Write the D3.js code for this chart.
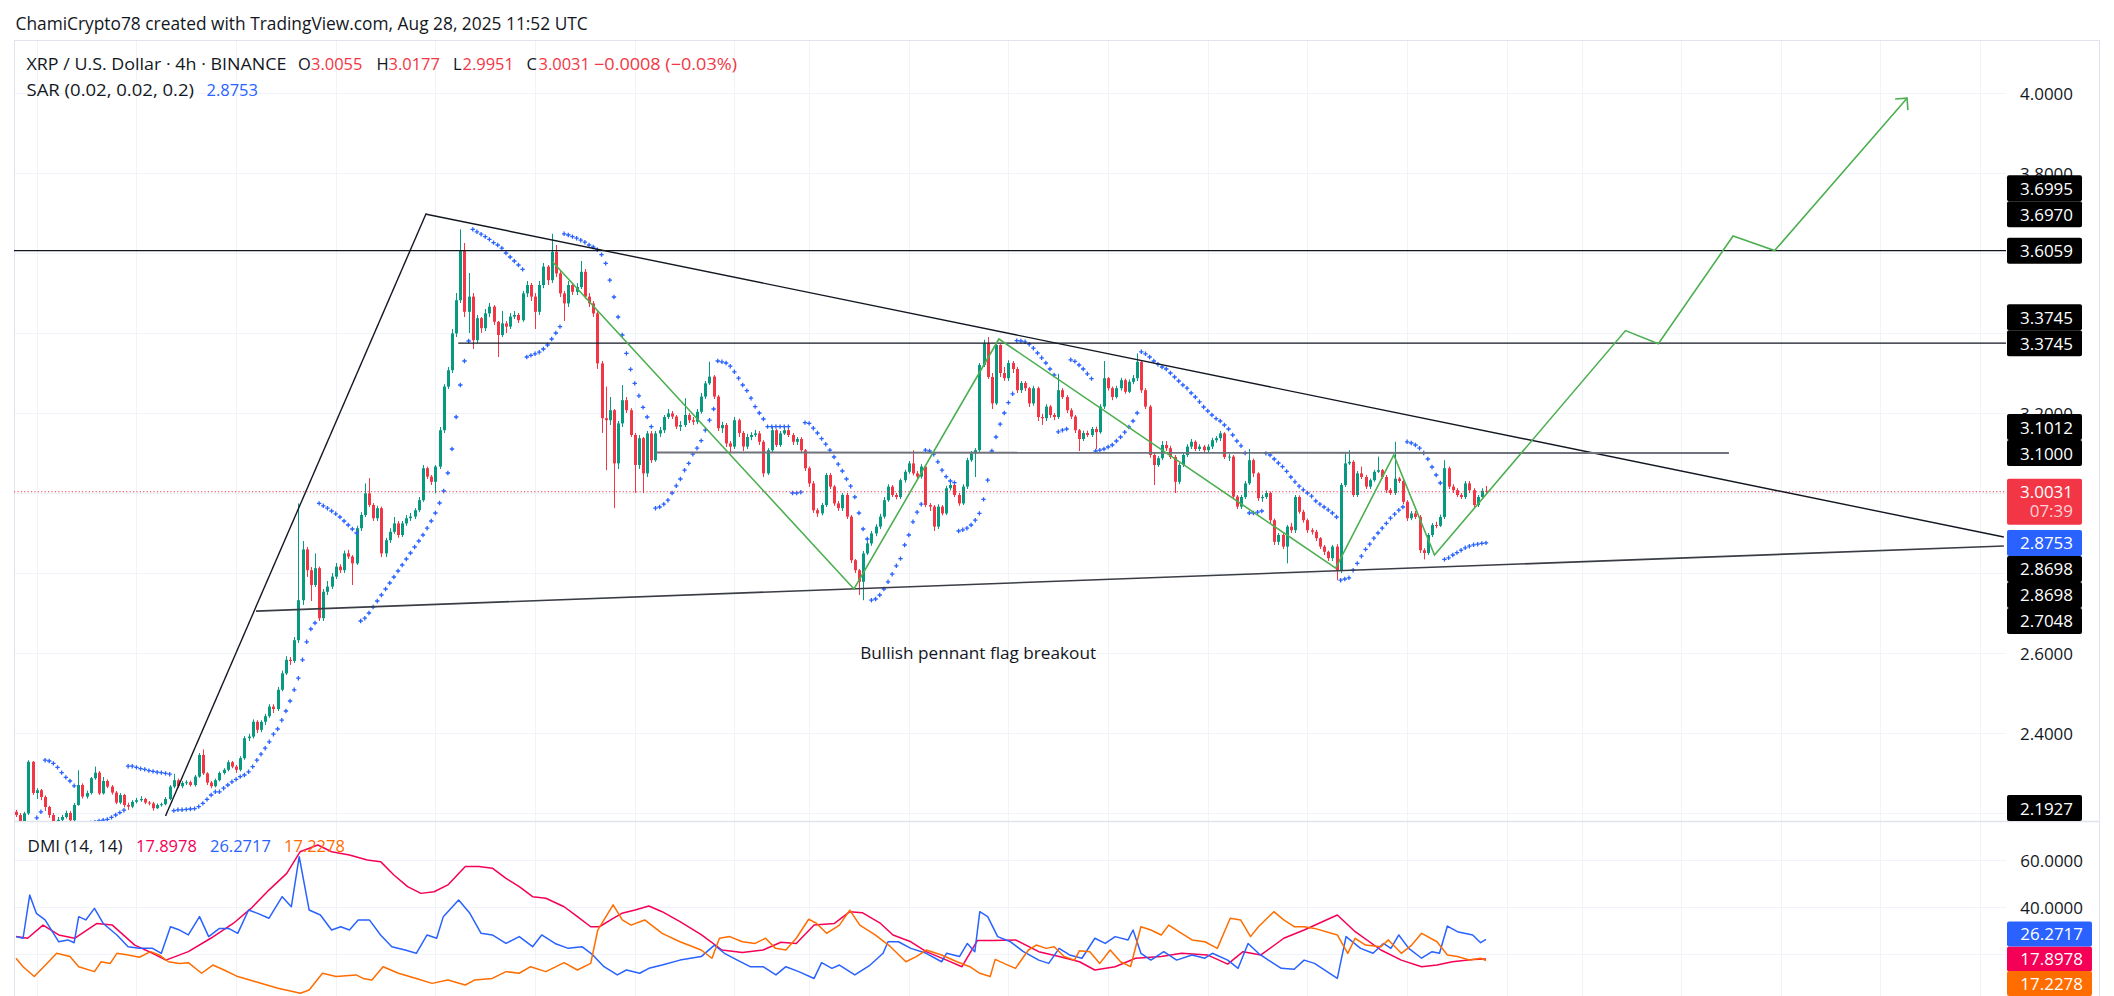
<!DOCTYPE html>
<html><head><meta charset="utf-8">
<script src="https://cdn.jsdelivr.net/npm/d3@7"></script>
<style>
html,body{margin:0;padding:0;background:#fff;overflow:hidden;}
svg{display:block;font-family:"Open Sans","Noto Sans",sans-serif;}
</style></head><body>
<svg id="c" width="2114" height="996"></svg>
<script>
// ---------------- DATA ----------------
const candleStart = "2025-06-30T04:00:00Z";   // first visible 4h candle
const firstOpen = 2.203;
// open of every later candle = previous close (continuous 24/7 market)
const closes = [
2.195,2.178,2.199,2.328,2.25,2.257,2.24,2.215,2.195,2.18,
2.183,2.19,2.20,2.182,2.22,2.27,2.241,2.25,2.287,2.301,
2.249,2.28,2.266,2.251,2.226,2.245,2.22,2.216,2.228,2.232,
2.235,2.226,2.224,2.212,2.22,2.222,2.235,2.266,2.282,2.267,
2.275,2.277,2.27,2.291,2.345,2.299,2.276,2.267,2.282,2.30,
2.308,2.327,2.316,2.308,2.337,2.387,2.391,2.428,2.408,2.428,
2.442,2.466,2.46,2.508,2.549,2.583,2.58,2.632,2.732,2.859,
2.807,2.77,2.812,2.687,2.753,2.766,2.791,2.816,2.807,2.849,
2.841,2.824,2.912,2.945,2.999,2.97,2.937,2.962,2.849,2.882,
2.903,2.924,2.895,2.924,2.937,2.941,2.957,2.982,3.062,3.041,
3.028,3.066,3.157,3.266,3.307,3.399,3.482,3.607,3.453,3.491,
3.382,3.437,3.412,3.449,3.466,3.428,3.395,3.424,3.416,3.441,
3.445,3.432,3.499,3.52,3.491,3.453,3.52,3.566,3.532,3.603,
3.549,3.499,3.474,3.52,3.503,3.515,3.553,3.491,3.474,3.449,
3.324,3.187,3.182,3.207,3.074,3.174,3.232,3.207,3.145,3.07,
3.137,3.049,3.149,3.082,3.149,3.157,3.19,3.199,3.191,3.166,
3.17,3.195,3.182,3.178,3.203,3.241,3.274,3.291,3.241,3.162,
3.17,3.124,3.116,3.182,3.15,3.116,3.14,3.145,3.149,3.128,
3.049,3.107,3.157,3.12,3.149,3.157,3.145,3.128,3.135,3.107,
3.062,3.024,2.957,2.949,2.97,3.045,3.016,2.974,2.962,2.995,
2.941,2.832,2.807,2.778,2.849,2.874,2.899,2.916,2.941,2.982,
3.016,2.995,2.99,3.032,3.053,3.074,3.049,3.041,3.066,2.97,
2.966,2.916,2.966,2.949,3.012,3.02,2.995,2.974,3.016,3.082,
3.099,3.107,3.32,3.374,3.29,3.224,3.37,3.30,3.287,3.325,
3.31,3.257,3.275,3.262,3.224,3.262,3.19,3.187,3.216,3.195,
3.19,3.257,3.24,3.207,3.191,3.157,3.135,3.15,3.145,3.16,
3.152,3.216,3.287,3.262,3.24,3.262,3.282,3.253,3.278,3.287,
3.328,3.257,3.216,3.095,3.07,3.087,3.12,3.112,3.09,3.028,
3.07,3.095,3.116,3.128,3.11,3.116,3.107,3.116,3.132,3.137,
3.149,3.09,3.091,2.991,2.966,2.99,3.024,3.082,3.049,2.987,
2.99,3.0,2.932,2.878,2.895,2.866,2.916,2.907,2.99,2.953,
2.932,2.907,2.903,2.887,2.866,2.853,2.837,2.866,2.807,3.02,
3.074,3.078,2.995,3.049,3.04,3.016,3.032,3.053,3.057,3.04,
3.007,3.0,3.036,3.03,2.978,2.937,2.949,2.94,2.857,2.85,
2.895,2.92,2.918,2.94,3.062,3.016,3.007,2.995,2.99,3.024,
3.007,2.97,2.99,3.0055,3.0031];
const highs = [
2.208,2.20,2.203,2.332,2.33,2.262,2.26,2.244,2.218,2.20,
2.19,2.195,2.206,2.205,2.225,2.307,2.274,2.256,2.29,2.316,
2.305,2.29,2.284,2.27,2.255,2.25,2.248,2.226,2.232,2.238,
2.242,2.238,2.23,2.228,2.224,2.226,2.24,2.27,2.298,2.286,
2.28,2.282,2.281,2.295,2.35,2.359,2.302,2.28,2.286,2.304,
2.312,2.332,2.33,2.32,2.342,2.392,2.398,2.434,2.432,2.432,
2.448,2.472,2.472,2.515,2.556,2.592,2.59,2.64,2.974,2.88,
2.865,2.815,2.849,2.816,2.76,2.78,2.80,2.825,2.822,2.856,
2.858,2.845,2.918,2.952,3.024,3.037,2.975,2.968,2.966,2.888,
2.912,2.94,2.93,2.93,2.945,2.95,2.962,2.99,3.07,3.066,
3.045,3.07,3.165,3.272,3.315,3.41,3.50,3.659,3.625,3.55,
3.50,3.445,3.44,3.46,3.475,3.47,3.43,3.455,3.43,3.45,
3.455,3.45,3.505,3.53,3.525,3.50,3.53,3.575,3.57,3.648,
3.62,3.555,3.505,3.53,3.525,3.525,3.58,3.56,3.50,3.48,
3.455,3.33,3.266,3.24,3.21,3.18,3.27,3.24,3.212,3.15,
3.145,3.14,3.155,3.155,3.155,3.165,3.195,3.21,3.205,3.195,
3.18,3.237,3.20,3.19,3.21,3.25,3.28,3.328,3.295,3.245,
3.178,3.175,3.13,3.19,3.186,3.155,3.148,3.152,3.158,3.155,
3.132,3.112,3.165,3.16,3.155,3.165,3.162,3.15,3.14,3.14,
3.11,3.066,3.03,2.962,2.975,3.05,3.05,3.02,2.98,3.0,
3.0,2.945,2.835,2.81,2.855,2.88,2.905,2.922,2.948,2.99,
3.022,3.02,3.0,3.036,3.058,3.08,3.107,3.055,3.072,3.07,
2.975,2.97,2.972,2.97,3.018,3.026,3.024,3.0,3.022,3.088,
3.105,3.112,3.325,3.383,3.39,3.30,3.378,3.372,3.315,3.332,
3.33,3.315,3.28,3.28,3.265,3.268,3.266,3.198,3.222,3.22,
3.20,3.298,3.262,3.245,3.212,3.195,3.16,3.156,3.156,3.165,
3.166,3.222,3.33,3.29,3.266,3.268,3.288,3.286,3.284,3.295,
3.349,3.332,3.262,3.22,3.10,3.092,3.13,3.13,3.118,3.095,
3.075,3.10,3.122,3.135,3.132,3.122,3.12,3.122,3.138,3.142,
3.155,3.152,3.098,3.095,2.995,2.995,3.03,3.11,3.086,3.052,
2.996,3.006,3.004,2.936,2.90,2.90,2.92,2.925,2.995,2.994,
2.958,2.936,2.912,2.908,2.89,2.87,2.856,2.87,2.872,3.025,
3.099,3.107,3.082,3.055,3.066,3.045,3.036,3.058,3.091,3.06,
3.045,3.012,3.128,3.04,3.034,2.982,2.955,2.955,2.945,2.862,
2.90,2.925,2.928,2.946,3.082,3.066,3.022,3.012,3.0,3.03,
3.03,3.012,2.995,3.012,3.0177];
const lows = [
2.19,2.17,2.175,2.195,2.245,2.235,2.232,2.205,2.188,2.172,
2.175,2.178,2.186,2.176,2.18,2.218,2.236,2.236,2.246,2.283,
2.245,2.246,2.262,2.246,2.222,2.222,2.214,2.208,2.212,2.224,
2.228,2.222,2.219,2.206,2.21,2.216,2.219,2.232,2.262,2.262,
2.262,2.27,2.266,2.266,2.288,2.295,2.27,2.262,2.264,2.279,
2.296,2.304,2.312,2.30,2.304,2.333,2.38,2.386,2.40,2.402,
2.42,2.438,2.45,2.455,2.504,2.545,2.57,2.575,2.625,2.72,
2.79,2.73,2.765,2.68,2.68,2.745,2.76,2.785,2.80,2.80,
2.835,2.77,2.82,2.905,2.94,2.965,2.93,2.93,2.84,2.84,
2.875,2.898,2.888,2.89,2.918,2.93,2.935,2.952,2.978,3.035,
3.02,2.999,3.06,3.15,3.26,3.30,3.39,3.475,3.44,3.40,
3.36,3.375,3.40,3.405,3.44,3.42,3.34,3.39,3.40,3.41,
3.435,3.425,3.428,3.49,3.48,3.41,3.445,3.512,3.52,3.525,
3.54,3.49,3.43,3.465,3.495,3.495,3.51,3.485,3.465,3.44,
3.31,3.15,3.057,3.17,2.962,3.06,3.165,3.20,3.14,3.0,
3.06,3.0,3.04,3.075,3.078,3.14,3.15,3.185,3.185,3.16,
3.155,3.165,3.175,3.17,3.172,3.198,3.235,3.27,3.235,3.155,
3.15,3.115,3.10,3.11,3.14,3.105,3.11,3.132,3.14,3.12,
3.04,3.045,3.10,3.115,3.115,3.145,3.14,3.12,3.12,3.10,
3.055,3.015,2.95,2.94,2.944,2.965,3.01,2.968,2.955,2.955,
2.935,2.825,2.80,2.745,2.732,2.845,2.868,2.892,2.91,2.936,
2.978,2.99,2.984,2.985,3.026,3.048,3.044,3.035,3.036,2.965,
2.955,2.905,2.91,2.944,2.945,3.006,2.99,2.968,2.97,3.01,
3.078,3.04,3.10,3.315,3.285,3.21,3.22,3.29,3.28,3.28,
3.30,3.25,3.25,3.255,3.215,3.218,3.18,3.17,3.18,3.188,
3.182,3.185,3.235,3.20,3.185,3.15,3.105,3.13,3.14,3.14,
3.11,3.148,3.21,3.256,3.232,3.236,3.256,3.248,3.25,3.272,
3.28,3.25,3.21,3.088,3.02,3.065,3.082,3.105,3.085,3.0,
3.022,3.065,3.09,3.11,3.105,3.105,3.10,3.10,3.11,3.126,
3.13,3.085,3.08,2.985,2.96,2.96,2.985,3.02,3.04,2.98,
2.978,2.985,2.925,2.87,2.87,2.86,2.824,2.90,2.90,2.948,
2.926,2.90,2.896,2.88,2.86,2.845,2.83,2.83,2.782,2.80,
3.015,3.07,2.99,2.99,3.035,3.01,3.01,3.028,3.05,3.035,
3.0,2.995,2.995,3.025,2.972,2.93,2.932,2.935,2.85,2.834,
2.845,2.89,2.912,2.915,2.935,3.01,3.0,2.99,2.985,2.985,
3.0,2.963,2.965,2.985,2.9951];
// Parabolic SAR (0.02, 0.02, 0.2) read per candle, null = not visible
const sarValues = [
null,null,null,null,null,2.188,2.203,2.332,2.33,2.324,
2.314,2.301,2.289,2.28,2.268,2.168,2.17,2.172,2.175,2.177,
2.18,2.182,2.184,2.189,2.195,2.201,2.207,2.317,2.317,2.314,
2.311,2.309,2.306,2.304,2.302,2.301,2.299,2.297,2.206,2.208,
2.208,2.209,2.21,2.211,2.216,2.224,2.234,2.245,2.253,2.253,
2.262,2.27,2.278,2.284,2.291,2.295,2.303,2.316,2.332,2.347,
2.362,2.378,2.397,2.41,2.432,2.455,2.48,2.508,2.537,2.583,
2.628,2.66,2.675,2.974,2.968,2.962,2.955,2.948,2.94,2.93,
2.92,2.91,2.90,2.68,2.687,2.70,2.715,2.73,2.745,2.76,
2.775,2.79,2.805,2.82,2.835,2.85,2.865,2.88,2.895,2.912,
2.93,2.95,2.975,3.005,3.05,3.11,3.19,3.27,3.33,3.38,
3.659,3.653,3.647,3.641,3.634,3.626,3.62,3.612,3.60,3.59,
3.58,3.57,3.559,3.34,3.344,3.348,3.352,3.36,3.37,3.385,
3.40,3.416,3.648,3.645,3.641,3.637,3.632,3.627,3.62,3.615,
3.608,3.596,3.574,3.532,3.49,3.44,3.395,3.349,3.309,3.274,
3.243,3.214,3.19,3.166,2.962,2.965,2.972,2.982,3.0,3.018,
3.035,3.057,3.074,3.097,3.112,3.131,3.157,3.182,3.21,3.33,
3.328,3.325,3.317,3.303,3.287,3.27,3.256,3.237,3.216,3.2,
3.185,3.166,3.166,3.166,3.166,3.166,3.166,3.0,3.0,3.002,
3.176,3.174,3.162,3.15,3.136,3.122,3.107,3.09,3.072,3.055,
3.035,3.017,2.99,2.95,2.91,2.885,2.732,2.735,2.745,2.76,
2.778,2.797,2.818,2.836,2.87,2.895,2.928,2.952,2.972,3.107,
3.105,3.097,3.078,3.057,3.041,3.03,3.026,2.905,2.908,2.912,
2.92,2.932,2.949,2.984,3.032,3.105,3.14,3.172,3.20,3.226,
3.248,3.381,3.38,3.378,3.372,3.362,3.35,3.338,3.325,3.31,
3.295,3.153,3.157,3.16,3.333,3.329,3.32,3.31,3.298,3.286,
3.105,3.107,3.11,3.115,3.12,3.13,3.14,3.152,3.165,3.18,
3.20,3.353,3.348,3.34,3.33,3.322,3.315,3.31,3.30,3.29,
3.28,3.27,3.262,3.25,3.24,3.228,3.215,3.205,3.195,3.186,
3.18,3.17,3.16,3.145,3.13,3.118,3.10,2.95,2.95,2.952,
2.955,3.099,3.095,3.085,3.075,3.066,3.054,3.04,3.028,3.017,
3.008,3.0,2.992,2.98,2.972,2.965,2.958,2.95,2.94,2.782,
2.785,2.788,2.807,2.824,2.842,2.859,2.872,2.887,2.90,2.912,
2.924,2.937,2.947,2.957,2.965,3.128,3.125,3.12,3.112,3.1,
3.085,3.065,3.045,3.025,2.834,2.838,2.845,2.851,2.857,2.863,
2.867,2.8705,2.872,2.874,2.8753];
// DMI (14,14): [candle index, value]
const adxLine = [[0,27.4],[2.8,26.7],[6.5,32.3],[10.3,28.1],[14.1,26.7],[19.5,33.0],[23.2,32.3],[28.6,23.8],[32.9,20.3],[36.1,17.4],[41.5,21.0],[46.9,26.7],[52.3,33.0],[56.6,39.4],[60.9,47.2],[65.2,54.3],[68.4,63.5],[72.7,66.4],[76,63.5],[80.3,62.1],[84.6,60.0],[87.8,59.3],[91,53.6],[94.3,48.7],[97.5,45.8],[100.7,46.5],[104,49.4],[108.2,57.2],[111.5,57.2],[114.7,56.5],[118,52.2],[121.2,48.7],[124.4,44.4],[127.6,43.7],[132,40.1],[135.2,35.9],[138.4,31.6],[140.5,31.6],[143.8,35.2],[145.9,37.3],[149.1,38.7],[152.4,40.4],[155.6,38.0],[159.9,33.8],[165.1,28.1],[170,21.7],[174.9,20.6],[179.9,21.7],[184.2,25.0],[187.9,24.5],[192.2,32.3],[197.1,33.0],[200.8,38.0],[203.8,37.6],[208.2,33.0],[211.2,28.1],[215.5,25.2],[219.2,21.0],[224.1,17.4],[227.8,14.6],[231.5,25.7],[235.2,25.7],[240.7,26.0],[246.3,21.0],[251.2,18.9],[256.1,16.7],[259.8,13.2],[264.7,14.6],[269.6,18.2],[275.8,18.9],[280.7,20.3],[286.9,19.6],[291.8,15.7],[295.5,21.0],[299.8,19.6],[305.3,26.7],[310.2,30.2],[318.2,36.6],[322.5,29.5],[328.7,21.7],[333.6,17.4],[338.5,14.6],[342.2,15.3],[345.9,16.7],[350.8,17.7],[354,17.8978]];
const plusDiLine = [[0,27.4],[1.7,26.7],[3.3,45.1],[4.9,37.3],[7,34.5],[10.3,25.2],[12.5,26],[14,24.8],[15.1,35.9],[16.8,34.5],[18.9,39.4],[21,33],[24.3,28.1],[27,23.1],[29.7,22.4],[32.9,22.4],[35,20.3],[37.2,31.6],[39.4,30.2],[41.5,28.1],[44.2,35.9],[46.4,27.4],[49,30.9],[51.2,30.9],[53.4,28.8],[56,38.7],[58.2,37.3],[60.9,35.2],[64.1,44.4],[66.3,40.1],[68.2,61.4],[70.6,38.7],[73.3,36.6],[76,30.2],[78.2,31.6],[80.3,30.2],[82.4,34.5],[85.1,34.5],[87.8,28.1],[90.5,23.1],[93.7,21.7],[96.4,20.3],[99,28.1],[101.3,26.7],[102.9,35.9],[106.6,43],[109.3,37.3],[112,28.8],[114.7,28.1],[118,24.5],[121.2,27.4],[124.4,23.1],[126.6,28.1],[129.8,24.5],[133,22.4],[136.3,23.1],[138.9,19.6],[141.6,14.6],[144.8,11.1],[147,13.2],[150.2,11.8],[152.4,13.9],[155.6,15.3],[159.9,17.4],[165,18.9],[168.2,23.8],[170.6,20.3],[173.7,17.4],[176.8,14.6],[179.9,14.6],[183,11.1],[185.4,14.6],[188.5,12.5],[192.2,9.6],[194,16.3],[196.5,13.9],[198.3,15.3],[202,11.1],[205.7,15.3],[208.8,20.3],[210,25.2],[212.5,25.2],[215.5,22.4],[219.2,20.3],[222.9,16.7],[224.1,20.3],[227.2,18.9],[229.1,24.5],[230.9,21.0],[232.1,38.0],[234,35.9],[236.4,27.4],[239.5,25.2],[242.6,21.0],[246.3,17.4],[248.7,16.0],[251.2,22.4],[253.7,19.6],[256.7,18.2],[259.8,26.7],[262.3,24.5],[264.7,27.4],[267.8,26.0],[269,30.2],[270.9,20.3],[273.3,17.4],[276.4,21.0],[279.5,17.4],[283.2,19.6],[286.3,18.2],[288.1,20.3],[291.8,17.4],[294.3,13.9],[296.7,24.5],[299.2,20.3],[301.6,17.4],[304.7,13.9],[307.8,13.5],[310.2,17.4],[312.7,16.0],[318.2,9.6],[320.3,27.4],[323.8,22.4],[326.8,20.3],[329.3,24.5],[331.1,22.4],[333,28.1],[335.4,22.4],[338.5,18.2],[341,21.0],[342.8,20.3],[344.7,31.9],[347.1,29.5],[350.8,28.1],[352.7,24.8],[354,26.2717]];
const minusDiLine = [[0,18.2],[1.7,14.6],[4.4,10.4],[7.1,15.3],[9.8,20.3],[13,18.9],[15.1,14.6],[18.9,12.5],[20.5,16.7],[22.7,16.0],[24.3,20.3],[27,19.6],[29.7,18.6],[32.4,21.0],[34.5,19.6],[36.7,16.7],[39.4,16.0],[41.5,16.3],[44.7,11.8],[47.4,15.3],[50.1,13.2],[53.4,10.4],[57.7,8.2],[63.1,5.4],[68.5,3.3],[70.6,4.7],[73.8,11.8],[77.1,10.4],[81.9,11.1],[83.6,9.6],[85.7,8.9],[88.4,14.6],[92.1,11.8],[96.4,9.6],[100.2,7.5],[104,8.9],[108.2,6.8],[110.4,8.9],[114.7,9.6],[118,12.5],[121.2,11.8],[123.9,14.6],[127.6,12.5],[132,16.3],[135.2,13.2],[138.4,16.0],[140.1,30.2],[141.6,34.5],[143.8,40.9],[146,34.5],[148.1,32.3],[151.4,34.5],[155.6,28.8],[159.9,25.2],[165,21.7],[167.6,18.2],[169.4,26.7],[171.9,27.4],[174.9,25.2],[178,24.5],[180.5,26.7],[182.9,22.4],[185.4,21.7],[187.9,26.7],[190.9,34.8],[192.8,33.0],[195.2,28.8],[198.3,32.3],[200.8,38.7],[203.2,32.3],[206.9,28.1],[210.6,23.1],[214.3,16.7],[216.8,18.9],[219.2,21.7],[222.9,19.6],[226.6,16.7],[229.7,14.6],[232.1,11.8],[234.6,10.4],[235.8,17.7],[238.3,15.7],[240.7,13.9],[243.8,21.7],[245.7,23.8],[248.1,22.4],[250,23.1],[252.4,18.9],[254.9,17.4],[256.1,21.4],[258.6,21.0],[261,16.0],[263.5,21.7],[266,16.7],[268.4,14.6],[270.9,31.6],[273.3,30.2],[275.8,28.1],[277.6,32.3],[280.7,28.8],[283.2,26.0],[286.3,25.2],[289.3,22.4],[292.4,35.2],[294.9,34.5],[297.3,27.4],[299.2,31.6],[302.9,38.0],[305.3,34.5],[307.8,31.6],[310.2,31.6],[312.7,30.9],[318.2,28.1],[320.7,20.3],[322.5,26.7],[325,23.8],[328.7,23.1],[330.5,26.0],[333.6,20.3],[336.1,23.8],[338.5,28.8],[342.2,25.2],[344.7,19.6],[347.1,18.9],[350.2,17.4],[352.7,18.2],[354,17.2278]];
// axes
const priceTicks = [2.2,2.4,2.6,2.8,3.0,3.2,3.4,3.6,3.8,4.0];
const dmiTicks = [20,40,60];
const gridDates = ["2025-07-01","2025-07-05","2025-07-09","2025-07-13","2025-07-17","2025-07-21","2025-07-25","2025-07-29","2025-08-01","2025-08-05","2025-08-09","2025-08-13","2025-08-17","2025-08-21","2025-08-25","2025-08-29","2025-09-01","2025-09-05","2025-09-09","2025-09-13","2025-09-17"];
// drawings: [candle index, price]
const leftRiseLine = [[36,2.1927],[98.8,3.6995]];
const upperTrendLine = [[98.8,3.6970],[478.7,2.890]];
const lowerTrendLine = [[57.8,2.7048],[478.7,2.8675]];
const resistance1 = [[-2,3.6059],[482,3.6059]];
const resistance2 = [[106.5,3.3745],[482,3.3745]];
const midLine = [[154.1,3.1012],[412.5,3.1000]];
const zigzagPath = [[129.2,3.578],[201.8,2.760],[236.7,3.385],[317.8,2.812],[331.8,3.095],[341.6,2.845],[387.6,3.406],[395.5,3.373],[413.5,3.6425],[423.5,3.606],[455.4,3.987]];
const noteText = "Bullish pennant flag breakout";
const notePos = [231.7,2.6025];
const lastPrice = 3.0031, countdown = "07:39";
const markerPrices = [3.6995,3.6970,3.6059,3.3745,3.3745,3.1012,3.1000,2.8698,2.8698,2.7048,2.1927];
const markerShift = [-1,0,0,-1,0,-1,0,1,1,1,-1];
const sarLast = 2.8753;
const dmiLast = {adx:17.8978, plus:26.2717, minus:17.2278};
const headerText = "ChamiCrypto78 created with TradingView.com, Aug 28, 2025 11:52 UTC";
const symbolText = "XRP / U.S. Dollar · 4h · BINANCE";
const ohlc = [["O","3.0055"],["H","3.0177"],["L","2.9951"],["C","3.0031"]];
const changeText = "−0.0008 (−0.03%)";

// ---------------- LAYOUT ----------------
const PL=14, PR=2006, AXR=2099, PT=40, PB=821, DT=822, DB=996;
const GREEN="#089981", RED="#f23645", BLUE="#2962ff", PINK="#f50057", ORANGE="#ff6d00", INK="#131722", GRID="#f0f3fa", BORDER="#e0e3eb";
const svg = d3.select("#c");
const x = d3.scaleLinear().domain([0,354]).range([16,1486]);
const y = d3.scaleLinear().domain([2.2,4.0]).range([813,93]);
const yd = d3.scaleLinear().domain([0,60]).range([1001,860]);
const t0 = Date.parse(candleStart), H4 = 4*3600*1000;
const idxOf = d => (Date.parse(d+"T00:00:00Z") - t0)/H4;

const defs = svg.append("defs");
defs.append("clipPath").attr("id","pc").append("rect").attr("x",PL).attr("y",PT).attr("width",PR-PL).attr("height",PB-PT);
defs.append("clipPath").attr("id","dc").append("rect").attr("x",PL).attr("y",DT).attr("width",PR-PL).attr("height",DB-DT);

svg.append("rect").attr("width",2114).attr("height",996).attr("fill","#fff");

function fitW(sel, w){ const n=sel.node(); const cur=parseFloat(sel.attr("font-size")); const m=n.getComputedTextLength(); if(m>0) sel.attr("font-size", cur*w/m); return +sel.attr("font-size"); }
function sizeFor(str, w, base){ const t=svg.append("text").attr("font-size",base).text(str); const fs=fitW(t,w); t.remove(); return fs; }

// grid
const g = svg.append("g");
g.selectAll(".vg").data(gridDates.map(idxOf).filter(i=>x(i)>PL&&x(i)<PR)).join("line")
 .attr("x1",d=>Math.round(x(d))+0.5).attr("x2",d=>Math.round(x(d))+0.5).attr("y1",PT).attr("y2",DB)
 .attr("stroke",GRID).attr("stroke-width",1);
g.selectAll(".hg").data(priceTicks).join("line")
 .attr("x1",PL).attr("x2",PR).attr("y1",d=>Math.round(y(d))+0.5).attr("y2",d=>Math.round(y(d))+0.5)
 .attr("stroke",GRID);
g.selectAll(".dg").data(dmiTicks).join("line")
 .attr("x1",PL).attr("x2",PR).attr("y1",d=>Math.round(yd(d))+0.5).attr("y2",d=>Math.round(yd(d))+0.5)
 .attr("stroke",GRID);

// frame
svg.append("line").attr("x1",PL).attr("x2",AXR).attr("y1",PT+0.5).attr("y2",PT+0.5).attr("stroke",BORDER);
svg.append("line").attr("x1",PL+0.5).attr("x2",PL+0.5).attr("y1",PT).attr("y2",DB).attr("stroke",BORDER);
svg.append("line").attr("x1",AXR+0.5).attr("x2",AXR+0.5).attr("y1",PT).attr("y2",DB).attr("stroke",BORDER);
svg.append("line").attr("x1",PL).attr("x2",AXR).attr("y1",PB+0.5).attr("y2",PB+0.5).attr("stroke",BORDER).attr("stroke-width",1.5);

// candles
const candles = closes.map((c,i)=>({i, o: i===0?firstOpen:closes[i-1], h:highs[i], l:lows[i], c}));
const gc = svg.append("g").attr("clip-path","url(#pc)");
const cg = gc.selectAll(".cd").data(candles).join("g");
cg.append("line")
 .attr("x1",d=>Math.round(x(d.i))+0.5).attr("x2",d=>Math.round(x(d.i))+0.5)
 .attr("y1",d=>y(d.h)).attr("y2",d=>y(d.l))
 .attr("stroke",d=>d.c>=d.o?GREEN:RED).attr("stroke-width",1);
cg.append("rect")
 .attr("x",d=>Math.round(x(d.i))-1).attr("width",3)
 .attr("y",d=>y(Math.max(d.o,d.c)))
 .attr("height",d=>Math.max(1,y(Math.min(d.o,d.c))-y(Math.max(d.o,d.c))))
 .attr("fill",d=>d.c>=d.o?GREEN:RED);

// SAR crosses
const sarPts = sarValues.map((v,i)=>({i,v})).filter(d=>d.v!==null);
gc.selectAll(".sar").data(sarPts).join("path")
 .attr("d",d=>{const cx=x(d.i), cy=y(d.v); return `M${cx-2.2},${cy}H${cx+2.2}M${cx},${cy-2.2}V${cy+2.2}`;})
 .attr("stroke",BLUE).attr("stroke-width",1.3).attr("fill","none");

// last price dotted line
gc.append("line").attr("x1",PL).attr("x2",PR).attr("y1",y(lastPrice)).attr("y2",y(lastPrice))
 .attr("stroke",RED).attr("stroke-width",1).attr("stroke-dasharray","1.2,2.2");

// drawings
const ln = d3.line().x(d=>x(d[0])).y(d=>y(d[1]));
[[leftRiseLine,INK,1.4],[upperTrendLine,INK,1.4],[lowerTrendLine,"#3a3d45",1.6],[resistance1,INK,1.3],[resistance2,INK,1.3],[midLine,"#6f727b",2]]
 .forEach(([pts,col,w])=>gc.append("path").attr("d",ln(pts)).attr("fill","none").attr("stroke",col).attr("stroke-width",w));
gc.append("path").attr("d",ln(zigzagPath)).attr("fill","none").attr("stroke","#4caf50").attr("stroke-width",1.6).attr("stroke-linejoin","miter");
(function(){
 const a=zigzagPath[zigzagPath.length-2], b=zigzagPath[zigzagPath.length-1];
 const bx=x(b[0]), by=y(b[1]), ang=Math.atan2(by-y(a[1]), bx-x(a[0]));
 const L=12, sp=Math.PI/4;
 const p1=[bx-L*Math.cos(ang-sp), by-L*Math.sin(ang-sp)], p2=[bx-L*Math.cos(ang+sp), by-L*Math.sin(ang+sp)];
 gc.append("path").attr("d",`M${p1[0]},${p1[1]}L${bx},${by}L${p2[0]},${p2[1]}`).attr("fill","none").attr("stroke","#4caf50").attr("stroke-width",1.6);
})();
gc.append("text").attr("x",x(notePos[0])).attr("y",y(notePos[1])).attr("text-anchor","middle")
 .attr("dominant-baseline","central").attr("font-size",15.5).attr("fill",INK).text(noteText)
 .call(s=>fitW(s,236));

// DMI lines
const gd = svg.append("g").attr("clip-path","url(#dc)");
const dl = d3.line().x(d=>x(d[0])).y(d=>yd(d[1]));
[[adxLine,PINK],[plusDiLine,BLUE],[minusDiLine,ORANGE]].forEach(([pts,col])=>
 gd.append("path").attr("d",dl(pts)).attr("fill","none").attr("stroke",col).attr("stroke-width",1.5).attr("stroke-linejoin","round"));

// ---- texts: pieces with exact start x and width (textLength) ----
function pieces(yc, fs, list){
 list.forEach(([t,c,px,w])=>{
  const el = svg.append("text").attr("x",px).attr("y",yc).attr("dominant-baseline","central")
   .attr("font-size",fs).attr("fill",c).text(t);
  if(w){ const m=el.node().getComputedTextLength(); if(m>0 && Math.abs(m-w)/w>0.02) el.attr("textLength",w).attr("lengthAdjust","spacingAndGlyphs"); }
 });
}
const HFS = sizeFor(headerText,573,16);
pieces(23, HFS, [[headerText,INK,15.5,null]]);
const LFS = sizeFor("3.0055",51.5,16);
const ohlcX = [[298,311],[376.5,388.5],[453,462.5],[526.5,538.5]];
const row1 = [[symbolText,INK,26.5,260]];
ohlc.forEach(([k,v],i)=>{ row1.push([k,INK,ohlcX[i][0],null]); row1.push([v,RED,ohlcX[i][1],51.5]); });
row1.push([changeText,RED,594,143]);
pieces(63, LFS, row1);
pieces(89, LFS, [["SAR (0.02, 0.02, 0.2)",INK,26.5,167.5],[sarLast.toFixed(4),BLUE,206.5,52]]);
pieces(845, LFS, [["DMI (14, 14)",INK,27.5,95],[dmiLast.adx.toFixed(4),PINK,136,62],[dmiLast.plus.toFixed(4),BLUE,210,62],[dmiLast.minus.toFixed(4),ORANGE,284,62]]);

// ---------------- RIGHT AXIS ----------------
const AFS = sizeFor("2.6000",53,16);
const TX = 2073;
const tickLayer = svg.append("g");
const boxLayer = svg.append("g");
const BH=26, placed=[];
function place(yc, h, shift, top0, bot0, list){
 let top = yc - BH/2, guard=0, moved=true;
 while(moved && guard<50){ moved=false; guard++;
  for(const p of list){ if(top < p.b-0.5 && top+h > p.t+0.5){ moved=true; top = shift<0 ? p.t-h : p.b; } } }
 if(top+h>bot0) top = bot0-h; if(top<top0) top=top0;
 list.push({t:top,b:top+h}); return top;
}
function box(top,h,bg,x1){ boxLayer.append("rect").attr("x",2007).attr("y",top).attr("width",x1-2007).attr("height",h).attr("rx",2).attr("fill",bg); }
function btxt(tx,yc,col,s){ boxLayer.append("text").attr("x",tx).attr("y",yc).attr("text-anchor","end").attr("dominant-baseline","central").attr("font-size",AFS).attr("fill",col).text(s); }
// current price (two rows)
{ const top = place(y(lastPrice), 46, 0, PT, PB, placed);
  box(top,46,RED,2082); btxt(TX,top+13,"#fff",lastPrice.toFixed(4)); btxt(TX,top+32,"#ffd0d6",countdown); }
{ const top = place(y(sarLast), BH, 0, PT, PB, placed); box(top,BH,BLUE,2082); btxt(TX,top+BH/2,"#fff",sarLast.toFixed(4)); }
const order = markerPrices.map((p,i)=>i).sort((a,b)=>(markerShift[a]===0?0:1)-(markerShift[b]===0?0:1));
order.forEach(i=>{ const top=place(y(markerPrices[i]),BH,markerShift[i],PT,PB,placed);
 box(top,BH,"#000",2082); btxt(TX,top+BH/2,"#fff",markerPrices[i].toFixed(4)); });
// DMI boxes
const placedD=[]; const DBH=25;
[[dmiLast.adx,PINK,0],[dmiLast.plus,BLUE,-1],[dmiLast.minus,ORANGE,1]].forEach(([v,col,s])=>{
 let top = yd(v)-DBH/2, guard=0, moved=true;
 while(moved&&guard<20){moved=false;guard++; for(const p of placedD){ if(top<p.b-0.5&&top+DBH>p.t+0.5){moved=true; top = s<0? p.t-DBH : p.b;} } }
 if(top+DBH>DB) top=DB-DBH; placedD.push({t:top,b:top+DBH});
 box(top,DBH,col,2092); btxt(2083,top+DBH/2,"#fff",v.toFixed(4));
});
// tick labels (skip those fully hidden under a marker box)
const hidden = (yc, list) => list.some(p => yc > p.t+2 && yc < p.b-2);
tickLayer.selectAll(".pt").data(priceTicks.filter(v=>!hidden(y(v),placed))).join("text")
 .attr("x",TX).attr("y",d=>y(d)).attr("text-anchor","end").attr("dominant-baseline","central")
 .attr("font-size",AFS).attr("fill",INK).text(d=>d.toFixed(4));
tickLayer.selectAll(".dt").data(dmiTicks.filter(v=>!hidden(yd(v),placedD))).join("text")
 .attr("x",2083).attr("y",d=>yd(d)).attr("text-anchor","end").attr("dominant-baseline","central")
 .attr("font-size",AFS).attr("fill",INK).text(d=>d.toFixed(4));
</script>
</body></html>
